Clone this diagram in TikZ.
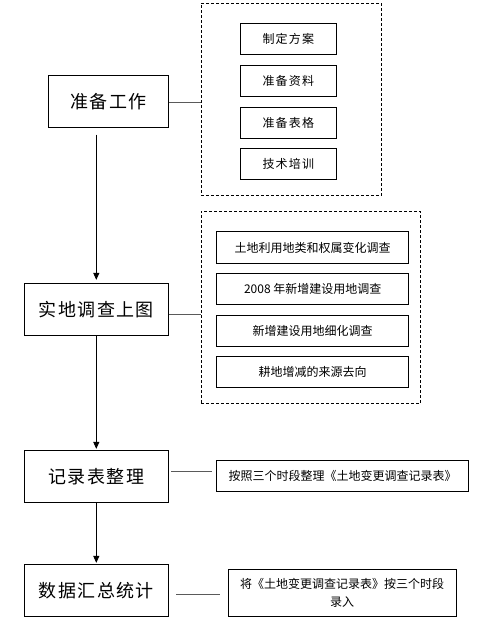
\documentclass[tikz,border=0pt]{standalone}
\usepackage{fontspec}
\setmainfont{Noto Sans CJK SC}
\newfontfamily\cjkbig[LetterSpace=8]{Noto Sans CJK SC}
\newfontfamily\cjksmall{Noto Sans CJK SC}
\newfontfamily\cjkspaced[LetterSpace=10]{Noto Sans CJK SC}
\usetikzlibrary{arrows.meta}
\definecolor{conn}{RGB}{90,90,90}
\tikzset{
  mainbox/.style={draw, line width=0.8bp, inner sep=0pt, minimum width=144bp, minimum height=52bp, font=\cjkbig\fontsize{18bp}{22bp}\selectfont},
  subbox/.style={draw, line width=0.8bp, inner sep=0pt, minimum height=31bp, font=\cjksmall\fontsize{12bp}{18bp}\selectfont},
  groupbox/.style={draw, line width=0.8bp, dash pattern=on 3bp off 2bp, inner sep=0pt},
  flow/.style={line width=0.9bp, -{Triangle[width=6bp,length=7bp]}},
  link/.style={line width=0.9bp, draw=conn},
}
\begin{document}
\begin{tikzpicture}[x=1bp,y=-1bp]
\useasboundingbox (0,0) rectangle (482,621);
% main boxes
\node[mainbox, minimum width=120bp] (A) at (108.3,101.2) {准备工作};
\node[mainbox] (B) at (96.3,309.3) {实地调查上图};
\node[mainbox] (C) at (96.3,476.3) {记录表整理};
\node[mainbox, minimum height=52.4bp] (D) at (96.3,590.5) {数据汇总统计};
% group 1
\node[groupbox, minimum width=180.7bp, minimum height=191.7bp] (G1) at (291.3,99.2) {};
\node[subbox, minimum width=96bp, font=\cjkspaced\fontsize{12bp}{18bp}\selectfont] (a1) at (288.3,39.3) {制定方案};
\node[subbox, minimum width=96bp, font=\cjkspaced\fontsize{12bp}{18bp}\selectfont] (a2) at (288.3,80.8) {准备资料};
\node[subbox, minimum width=96bp, font=\cjkspaced\fontsize{12bp}{18bp}\selectfont] (a3) at (288.3,122.8) {准备表格};
\node[subbox, minimum width=96bp, font=\cjkspaced\fontsize{12bp}{18bp}\selectfont] (a4) at (288.3,163.8) {技术培训};
% group 2
\node[groupbox, minimum width=219bp, minimum height=192.7bp] (G2) at (310.5,307.3) {};
\node[subbox, minimum width=192bp, minimum height=31.6bp] (b1) at (312.7,247.5) {土地利用地类和权属变化调查};
\node[subbox, minimum width=192bp] (b2) at (312.7,288.8) {2008 年新增建设用地调查};
\node[subbox, minimum width=192bp, minimum height=31.3bp] (b3) at (312.7,330.7) {新增建设用地细化调查};
\node[subbox, minimum width=192bp] (b4) at (312.7,372.2) {耕地增减的来源去向};
% right boxes
\node[subbox, minimum width=251.6bp, minimum height=31.3bp] (R3) at (342.5,475.7) {按照三个时段整理《土地变更调查记录表》};
\node[subbox, minimum width=227.7bp, minimum height=47.4bp, align=center] (R4) at (342.2,593) {将《土地变更调查记录表》按三个时段\\录入};
% flow arrows
\draw[flow, shorten >=3bp] ([yshift=-7bp]A.south -| B.north) -- (B.north);
\draw[flow, shorten >=1bp] (B.south) -- (C.north);
\draw[flow, shorten >=1bp] (C.south) -- (D.north);
% side links
\draw[link] ([yshift=-1bp]A.east) -- ([yshift=-1bp]A.east -| G1.west);
\draw[link] ([yshift=-5bp]B.east) -- ([yshift=-5bp]B.east -| G2.west);
\draw[link, shorten <=2.4bp, shorten >=4bp] ([yshift=5.3bp]C.east) -- ([yshift=5.3bp]C.east -| R3.west);
\draw[link, shorten <=7.4bp, shorten >=8.3bp] ([yshift=-3.8bp]D.east) -- ([yshift=-3.8bp]D.east -| R4.west);
\end{tikzpicture}
\end{document}
